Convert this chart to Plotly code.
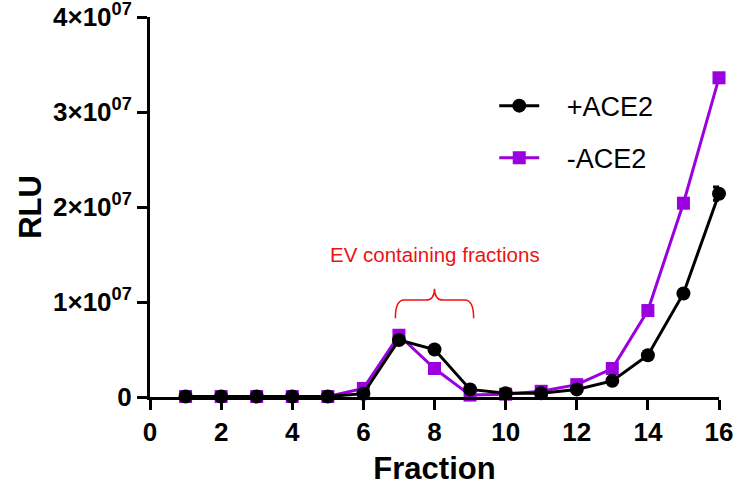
import plotly.graph_objects as go

fractions = list(range(1, 17))
plus_ace2 = [0.05e6, 0.05e6, 0.05e6, 0.05e6, 0.05e6, 0.35e6, 6.0e6, 5.0e6, 0.8e6, 0.4e6,
             0.4e6, 0.8e6, 1.7e6, 4.4e6, 10.9e6, 21.4e6]
plus_ace2_err = [0, 0, 0, 0, 0, 0, 0.1e6, 0.1e6, 0, 0, 0, 0, 0, 0, 0.1e6, 0.7e6]
minus_ace2 = [0.05e6, 0.05e6, 0.05e6, 0.05e6, 0.05e6, 0.9e6, 6.5e6, 3.0e6, 0.2e6, 0.3e6,
              0.6e6, 1.3e6, 3.0e6, 9.1e6, 20.4e6, 33.6e6]

y_tickvals = [0, 1e7, 2e7, 3e7, 4e7]
y_ticktext = ["0", "1×10<sup>07</sup>", "2×10<sup>07</sup>", "3×10<sup>07</sup>", "4×10<sup>07</sup>"]
x_tickvals = list(range(0, 17, 2))

bracket_x = (6.9, 9.1)
bracket_y = (8.3e6, 10.2e6, 11.4e6)
label_text = "EV containing fractions"

BLACK = "#000000"
PURPLE = "#9B00DF"
FONT = "Liberation Sans, Arial"

fig = go.Figure()
fig.add_trace(go.Scatter(
    x=fractions, y=minus_ace2, name="   -ACE2", mode="lines+markers",
    line=dict(color=PURPLE, width=3),
    marker=dict(symbol="square", size=13, color=PURPLE),
    cliponaxis=False, legendgroup="b", legendrank=2,
))
fig.add_trace(go.Scatter(
    x=fractions, y=plus_ace2, name="   +ACE2", mode="lines+markers",
    line=dict(color=BLACK, width=3),
    marker=dict(symbol="circle", size=14, color=BLACK),
    error_y=dict(type="data", array=plus_ace2_err, color=BLACK, thickness=3, width=6),
    cliponaxis=False, legendgroup="a", legendrank=1,
))

# curly bracket
x0, x1 = bracket_x
yb, yh, yt = bracket_y
xm = (x0 + x1) / 2
r = 0.25
path = (f"M {x0},{yb} Q {x0},{yh} {x0 + r},{yh} L {xm - r},{yh} Q {xm},{yh} {xm},{yt} "
        f"Q {xm},{yh} {xm + r},{yh} L {x1 - r},{yh} Q {x1},{yh} {x1},{yb}")
fig.add_shape(type="path", path=path, xref="x", yref="y",
              line=dict(color="#EE1111", width=1.5))
fig.add_annotation(x=xm, y=15.0e6, xref="x", yref="y", text=label_text, showarrow=False,
                   font=dict(family=FONT, size=20.5, color="#EE1111"))

fig.update_layout(
    width=736, height=487,
    margin=dict(l=150, r=17, t=17, b=90),
    plot_bgcolor="white", paper_bgcolor="white",
    font=dict(family=FONT, color="black"),
    showlegend=True,
    legend=dict(x=0.605, y=0.83, xanchor="left", yanchor="top",
                font=dict(size=27), traceorder="grouped", tracegroupgap=14,
                bgcolor="rgba(0,0,0,0)", itemwidth=40),
    xaxis=dict(range=[0, 16], tickvals=x_tickvals, showgrid=False, zeroline=False,
               automargin=False, ticklabeloverflow="allow",
               showline=True, linecolor="black", linewidth=3,
               ticks="outside", ticklen=10, tickwidth=3, tickcolor="black",
               ticklabelstandoff=0,
               tickfont=dict(size=26, family=FONT, weight="bold"),
               title=dict(text="<b>Fraction</b>", font=dict(size=31), standoff=12)),
    yaxis=dict(range=[0, 4e7], tickvals=y_tickvals, ticktext=y_ticktext,
               showgrid=False, zeroline=False,
               automargin=False, ticklabeloverflow="allow",
               showline=True, linecolor="black", linewidth=3,
               ticks="outside", ticklen=10, tickwidth=3, tickcolor="black",
               ticklabelstandoff=0,
               tickfont=dict(size=26, family=FONT, weight="bold"),
               title=dict(text="<b>RLU</b>", font=dict(size=31), standoff=3)),
)

fig.write_html("out.html", config={"displayModeBar": False},
               post_script="document.body.style.margin='0px';")
